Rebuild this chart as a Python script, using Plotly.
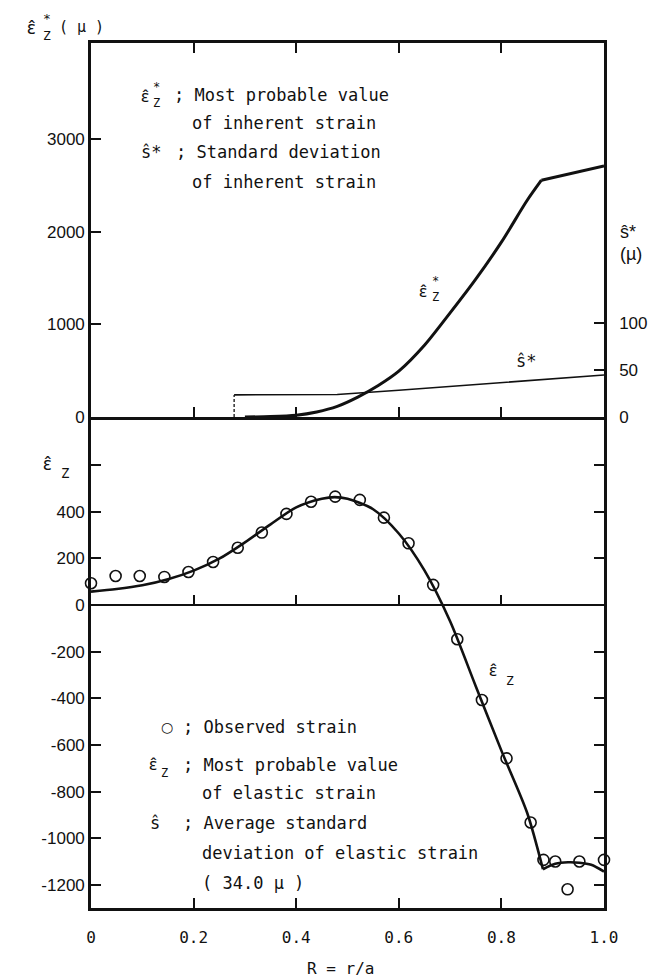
import plotly.graph_objects as go

# ---------------- data ----------------
# top panel: most probable inherent strain eps*_z (micro)
eps_star_R = [0.30, 0.35, 0.40, 0.44, 0.48, 0.52, 0.56, 0.60, 0.65, 0.70, 0.75, 0.80, 0.85, 0.878]
eps_star_V = [0, 5, 20, 55, 115, 215, 340, 495, 775, 1125, 1490, 1890, 2340, 2560]
eps_star_R2 = [0.878, 1.0]
eps_star_V2 = [2560, 2715]

# top panel: standard deviation of inherent strain s* (micro, right axis)
s_star_R = [0.279, 0.40, 0.48, 0.60, 0.70, 0.80, 0.90, 1.0]
s_star_V = [23.5, 23.5, 24.0, 28.5, 32.5, 36.5, 40.5, 44.7]

# bottom panel: observed strain
obs_R = [0.0, 0.048, 0.095, 0.143, 0.190, 0.238, 0.286, 0.333, 0.381, 0.429, 0.476,
         0.524, 0.571, 0.619, 0.667, 0.714, 0.762, 0.810, 0.857, 0.882, 0.905,
         0.929, 0.952, 1.0]
obs_V = [93, 124, 124, 120, 141, 184, 245, 310, 390, 442, 464,
         450, 374, 264, 86, -147, -407, -657, -932, -1092, -1099,
         -1218, -1099, -1092]

# bottom panel: most probable elastic strain
el_R = [0.0, 0.05, 0.10, 0.15, 0.20, 0.25, 0.30, 0.35, 0.40, 0.45, 0.475, 0.50,
        0.55, 0.60, 0.65, 0.70, 0.75, 0.80, 0.85, 0.881]
el_V = [57, 68, 84, 110, 147, 198, 268, 345, 418, 455, 462, 455,
        410, 306, 148, -70, -348, -624, -889, -1132]
el_R2 = [0.881, 0.905, 0.930, 0.952, 0.975, 1.0]
el_V2 = [-1132, -1109, -1102, -1104, -1113, -1142]

x_ticks = [0, 0.2, 0.4, 0.6, 0.8, 1.0]
x_ticktext = ["0", "0.2", "0.4", "0.6", "0.8", "1.0"]
top_ticks = [0, 1000, 2000, 3000]
s_ticks = [0, 50, 100]
s_ticktext = ["0", "50", "100"]
bot_ticks = [-1200, -1000, -800, -600, -400, -200, 0, 200, 400, 600]
bot_ticktext = ["-1200", "-1000", "-800", "-600", "-400", "-200", "0", "200", "400", ""]

# ---------------- layout geometry ----------------
FW, FH = 664, 978
ML, MR, MT, MB = 91, 60, 43, 52
FRAME_BOTTOM = 908          # pixel row of the lower frame line
PW = FW - ML - MR
PH = FH - MT - MB
TOP_RANGE = [0, 4043]
S_RANGE = [0, 4043 / 10.16]
BOT_RANGE = [-1298, 805]
low = (FH - MB - FRAME_BOTTOM) / PH          # gap under the frame (for tick labels)
split = low + 491 / PH                        # top of lower panel

MONO = "DejaVu Sans Mono"
SANS = "Liberation Sans"
GREEK = "Noto Sans"
BLACK = "#111111"
NB = "\u00a0"


def px(x):
    return (x - ML) / PW


def py(y):
    return (FH - MB - y) / PH


annotations = []


def ann(text, x, y, size=17, family=MONO, xanchor="left"):
    annotations.append(dict(text=text, x=px(x), y=py(y), xref="paper", yref="paper",
                            showarrow=False, xanchor=xanchor, yanchor="middle",
                            font=dict(family=family, size=size, color=BLACK)))


def eps_hat(x, y, size=17):
    ann("ε\u0302", x, y, size=size, family=GREEK)


fig = go.Figure()
fig.add_trace(go.Scatter(x=eps_star_R, y=eps_star_V, xaxis="x2", yaxis="y2", mode="lines",
                         line=dict(color=BLACK, width=3, shape="spline", smoothing=0.8)))
fig.add_trace(go.Scatter(x=eps_star_R2, y=eps_star_V2, xaxis="x2", yaxis="y2", mode="lines",
                         line=dict(color=BLACK, width=3)))
fig.add_trace(go.Scatter(x=s_star_R, y=s_star_V, xaxis="x2", yaxis="y3", mode="lines",
                         line=dict(color=BLACK, width=1.6)))
fig.add_trace(go.Scatter(x=[s_star_R[0], s_star_R[0]], y=[0, s_star_V[0]], xaxis="x2", yaxis="y3",
                         mode="lines", line=dict(color=BLACK, width=1.3, dash="3px,2px")))
fig.add_trace(go.Scatter(x=el_R, y=el_V, xaxis="x", yaxis="y", mode="lines",
                         line=dict(color=BLACK, width=2.6, shape="spline", smoothing=0.8)))
fig.add_trace(go.Scatter(x=el_R2, y=el_V2, xaxis="x", yaxis="y", mode="lines",
                         line=dict(color=BLACK, width=2.6, shape="spline", smoothing=0.8)))
fig.add_trace(go.Scatter(x=obs_R, y=obs_V, xaxis="x", yaxis="y", mode="markers",
                         marker=dict(symbol="circle-open", size=11, color=BLACK,
                                     line=dict(width=1.6, color=BLACK)),
                         cliponaxis=False))
# carriers for the extra tick rows
fig.add_trace(go.Scatter(x=[None], y=[None], xaxis="x3", yaxis="y", mode="lines",
                         showlegend=False, hoverinfo="skip"))
fig.add_trace(go.Scatter(x=[None], y=[None], xaxis="x4", yaxis="y", mode="lines",
                         showlegend=False, hoverinfo="skip"))

zero_pos = low + (split - low) * (0 - BOT_RANGE[0]) / (BOT_RANGE[1] - BOT_RANGE[0])

axis_common = dict(showgrid=False, linecolor=BLACK, tickcolor=BLACK)
TL, TW = 10, 1.8

fig.update_layout(
    width=FW, height=FH,
    margin=dict(l=ML, r=MR, t=MT, b=MB, pad=0),
    paper_bgcolor="white", plot_bgcolor="white",
    showlegend=False,
    xaxis=dict(domain=[0, 1], range=[0, 1], anchor="y", tickmode="array", tickvals=x_ticks,
               ticks="inside", ticklen=TL, tickwidth=TW,
               showline=True, linewidth=2.6, mirror=False, zeroline=False,
               showticklabels=False, **axis_common),
    xaxis2=dict(domain=[0, 1], range=[0, 1], anchor="y2", tickmode="array",
                tickvals=x_ticks[1:-1], ticks="inside", ticklen=TL, tickwidth=TW,
                showline=True, linewidth=2.6, mirror="ticks", zeroline=False,
                showticklabels=False, **axis_common),
    xaxis3=dict(range=[0, 1], overlaying="x", anchor="free", position=zero_pos,
                side="bottom", tickmode="array", tickvals=x_ticks[1:-1], ticks="inside",
                ticklen=TL, tickwidth=TW, showline=False, zeroline=False,
                showticklabels=False, **axis_common),
    xaxis4=dict(range=[0, 1], overlaying="x", anchor="free", position=0,
                side="bottom", tickmode="array", tickvals=x_ticks, ticktext=x_ticktext,
                ticks="", showline=False, zeroline=False,
                tickfont=dict(family=MONO, size=16, color=BLACK), **axis_common),
    yaxis=dict(domain=[low, split], range=BOT_RANGE, anchor="x", tickmode="array",
               tickvals=bot_ticks, ticktext=bot_ticktext, ticks="inside", ticklen=TL,
               tickwidth=TW, showline=True, linewidth=2.6, mirror="ticks",
               zeroline=True, zerolinecolor=BLACK, zerolinewidth=2.2,
               tickfont=dict(family=SANS, size=17, color=BLACK), **axis_common),
    yaxis2=dict(domain=[split, 1], range=TOP_RANGE, anchor="x2", tickmode="array",
                tickvals=top_ticks, ticks="inside", ticklen=TL, tickwidth=TW,
                showline=True, linewidth=2.6, mirror=True, zeroline=False,
                tickfont=dict(family=SANS, size=17, color=BLACK), **axis_common),
    yaxis3=dict(range=S_RANGE, overlaying="y2", anchor="x2", side="right", tickmode="array",
                tickvals=s_ticks, ticktext=[NB * 3 + t for t in s_ticktext],
                ticks="inside", ticklen=TL, tickwidth=TW, showline=False, zeroline=False,
                tickfont=dict(family=SANS, size=17, color=BLACK), **axis_common),
)

# ---- axis titles ----
eps_hat(25, 27, size=18)
ann("*<br>Z", 41, 27, size=13)
ann("( µ )", 57, 27, size=15)
ann("ŝ*", 618, 232, size=18, family=SANS)
ann("(µ)", 618, 254, size=18, family=SANS)
eps_hat(41, 463, size=18)
ann("Z", 59, 473, size=14)
ann("R = r/a", 340, 968, size=16, xanchor="center")

# ---- top legend ----
eps_hat(139, 95)
ann("*<br>Z", 151, 95, size=12)
ann("; Most probable value", 172, 95)
ann("of inherent strain", 190, 123)
ann("ŝ*", 139, 152, size=17)
ann("; Standard deviation", 174, 152)
ann("of inherent strain", 190, 182)

# ---- curve labels ----
eps_hat(417, 290)
ann("*<br>Z", 430, 289, size=12)
ann("ŝ*", 514, 361, size=17)
eps_hat(487, 670)
ann("Z", 504, 680, size=13)

# ---- bottom legend ----
ann("○", 159, 727, size=14, family="DejaVu Sans")
ann("; Observed strain", 181, 727)
eps_hat(147, 763)
ann("Z", 159, 773, size=12)
ann("; Most probable value", 181, 765)
ann("of elastic strain", 200, 793)
ann("ŝ", 148, 823, size=17)
ann("; Average standard", 181, 823)
ann("deviation of elastic strain", 200, 853)
ann("( 34.0 µ )", 200, 883)

fig.update_layout(annotations=annotations)
fig.write_html("out.html")
